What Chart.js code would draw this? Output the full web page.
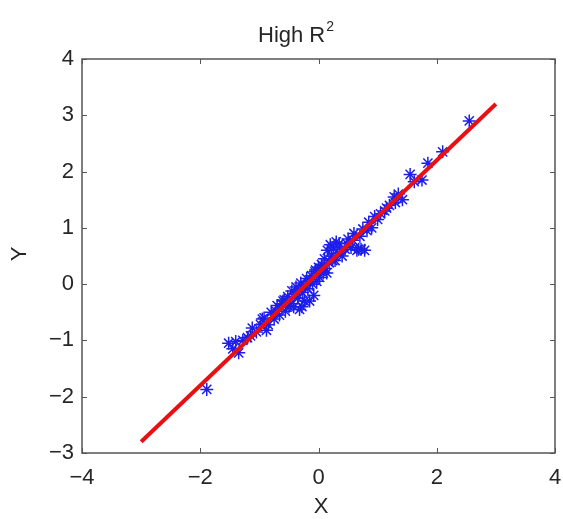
<!DOCTYPE html>
<html>
<head>
<meta charset="utf-8">
<script src="https://cdn.jsdelivr.net/npm/chart.js@4/dist/chart.umd.min.js"></script>
<style>
html,body{margin:0;padding:0;background:#fff;}
#wrap{width:563px;height:519px;position:relative;}
</style>
</head>
<body>
<div id="wrap"><canvas id="c" width="563" height="519"></canvas></div>
<script>
const chartTitle = "High R";
const titleSup = "2";
const xLabel = "X";
const yLabel = "Y";
const xTicks = [-4, -2, 0, 2, 4];
const yTicks = [-3, -2, -1, 0, 1, 2, 3, 4];
const sampleX = [-1.89,-1.52,-1.45,-1.35,-1.28,-1.2,-1.12,-1.05,-0.98,-0.92,-0.85,-0.8,-0.75,-0.7,-0.66,-0.6,-0.56,-0.52,-0.48,-0.45,-0.42,-0.38,-0.35,-0.32,-0.3,-0.27,-0.24,-0.2,-0.18,-0.15,-0.12,-0.1,-0.08,-0.05,-0.03,0.0,0.02,0.05,0.08,0.1,0.12,0.15,0.18,0.2,0.22,0.25,0.28,0.32,0.35,0.4,0.45,0.5,0.55,0.6,0.65,0.7,0.75,0.78,0.85,0.9,1.0,1.05,1.12,1.2,1.28,1.35,1.42,1.55,1.62,1.75,1.85,2.1,2.55,
  -1.4,-1.15,-0.95,-0.88,-0.72,-0.62,-0.5,-0.4,-0.33,-0.22,-0.14,-0.06,0.04,0.14,0.24,0.3,0.38,0.48,0.58,0.68,0.82,0.95,1.15,1.3,0.72,-0.28,-0.58];
const sampleY = [-1.87,-1.05,-1.15,-1.22,-1.0,-0.95,-0.78,-0.85,-0.72,-0.6,-0.72,-0.5,-0.62,-0.38,-0.55,-0.3,-0.48,-0.22,-0.35,-0.12,-0.4,-0.05,-0.25,-0.45,0.02,-0.15,-0.3,0.1,-0.08,-0.3,0.15,0.0,-0.2,0.25,0.05,0.3,0.12,0.35,0.2,0.45,0.28,0.6,0.38,0.7,0.5,0.65,0.42,0.55,0.72,0.5,0.62,0.8,0.65,0.9,0.6,0.85,0.98,0.6,1.1,1.0,1.15,1.25,1.3,1.4,1.55,1.6,1.5,1.95,1.82,1.85,2.15,2.35,2.9,
  -1.02,-0.92,-0.62,-0.82,-0.48,-0.35,-0.4,-0.18,-0.1,-0.02,0.05,0.22,0.28,0.2,0.42,0.75,0.62,0.72,0.78,0.62,0.95,1.2,1.35,1.45,0.62,-0.4,-0.28];
const fitX = [-3, 3];
const fitY = [-2.8, 3.2];

const scatterData = sampleX.map((x, i) => ({x: x, y: sampleY[i]}));
const fitData = fitX.map((x, i) => ({x: x, y: fitY[i]}));

const FONT = "'Liberation Sans', Arial, sans-serif";
const TXT = "#262626";
const fmt = v => (v < 0 ? "\u2212" + Math.abs(v) : String(v));

const decor = {
  id: 'decor',
  afterDraw(chart) {
    const ctx = chart.ctx;
    const a = chart.chartArea;
    const xs = chart.scales.x, ys = chart.scales.y;
    ctx.save();
    ctx.strokeStyle = "#555";
    ctx.lineWidth = 1.5;
    ctx.strokeRect(a.left, a.top, a.right - a.left, a.bottom - a.top);
    ctx.lineWidth = 1;
    const tl = 5;
    ctx.beginPath();
    xTicks.forEach(v => {
      const px = Math.round(xs.getPixelForValue(v)) + 0.5;
      ctx.moveTo(px, a.bottom); ctx.lineTo(px, a.bottom - tl);
      ctx.moveTo(px, a.top); ctx.lineTo(px, a.top + tl);
    });
    yTicks.forEach(v => {
      const py = Math.round(ys.getPixelForValue(v)) + 0.5;
      ctx.moveTo(a.left, py); ctx.lineTo(a.left + tl, py);
      ctx.moveTo(a.right, py); ctx.lineTo(a.right - tl, py);
    });
    ctx.stroke();
    // title
    ctx.fillStyle = TXT;
    ctx.textBaseline = 'alphabetic';
    ctx.font = "22px " + FONT;
    const w1 = ctx.measureText(chartTitle).width;
    ctx.font = "14px " + FONT;
    const w2 = ctx.measureText(titleSup).width;
    const sx = 258;
    ctx.font = "22px " + FONT;
    ctx.textAlign = 'left';
    ctx.fillText(chartTitle, sx, 42);
    ctx.font = "14px " + FONT;
    ctx.fillText(titleSup, sx + w1 + 1, 31);
    // axis labels
    ctx.font = "22px " + FONT;
    ctx.textAlign = 'center';
    ctx.textBaseline = 'middle';
    ctx.fillText(xLabel, 321, 507);
    ctx.translate(20, 254);
    ctx.rotate(-Math.PI / 2);
    ctx.fillText(yLabel, 0, 0);
    ctx.restore();
  }
};

new Chart(document.getElementById('c'), {
  type: 'scatter',
  data: {
    datasets: [
      {
        type: 'line',
        data: fitData,
        borderColor: 'rgb(232,16,20)',
        borderWidth: 4,
        pointRadius: 0,
        fill: false,
        tension: 0
      },
      {
        data: scatterData,
        pointStyle: 'star',
        pointRadius: 6.5,
        pointBorderWidth: 1.5,
        borderColor: 'rgb(30,30,235)',
        backgroundColor: 'rgb(30,30,235)'
      }
    ]
  },
  options: {
    responsive: false,
    animation: false,
    layout: {padding: {top: 59, right: 7, left: 0, bottom: 0}},
    plugins: {legend: {display: false}, tooltip: {enabled: false}, title: {display: false}},
    scales: {
      x: {
        type: 'linear', min: -4, max: 4,
        afterFit(s) { s.height = 66; s.paddingLeft = 0; s.paddingRight = 0; },
        afterBuildTicks(s) { s.ticks = xTicks.map(v => ({value: v})); },
        grid: {display: false, drawTicks: false},
        border: {display: false},
        ticks: {padding: 12, color: TXT, font: {family: FONT, size: 22}, maxRotation: 0, autoSkip: false, callback: fmt}
      },
      y: {
        type: 'linear', min: -3, max: 4,
        afterFit(s) { s.width = 82; s.paddingTop = 0; s.paddingBottom = 0; },
        afterBuildTicks(s) { s.ticks = yTicks.map(v => ({value: v})); },
        grid: {display: false, drawTicks: false},
        border: {display: false},
        ticks: {padding: 8, color: TXT, font: {family: FONT, size: 22}, autoSkip: false, callback: fmt}
      }
    }
  },
  plugins: [decor]
});
</script>
</body>
</html>
